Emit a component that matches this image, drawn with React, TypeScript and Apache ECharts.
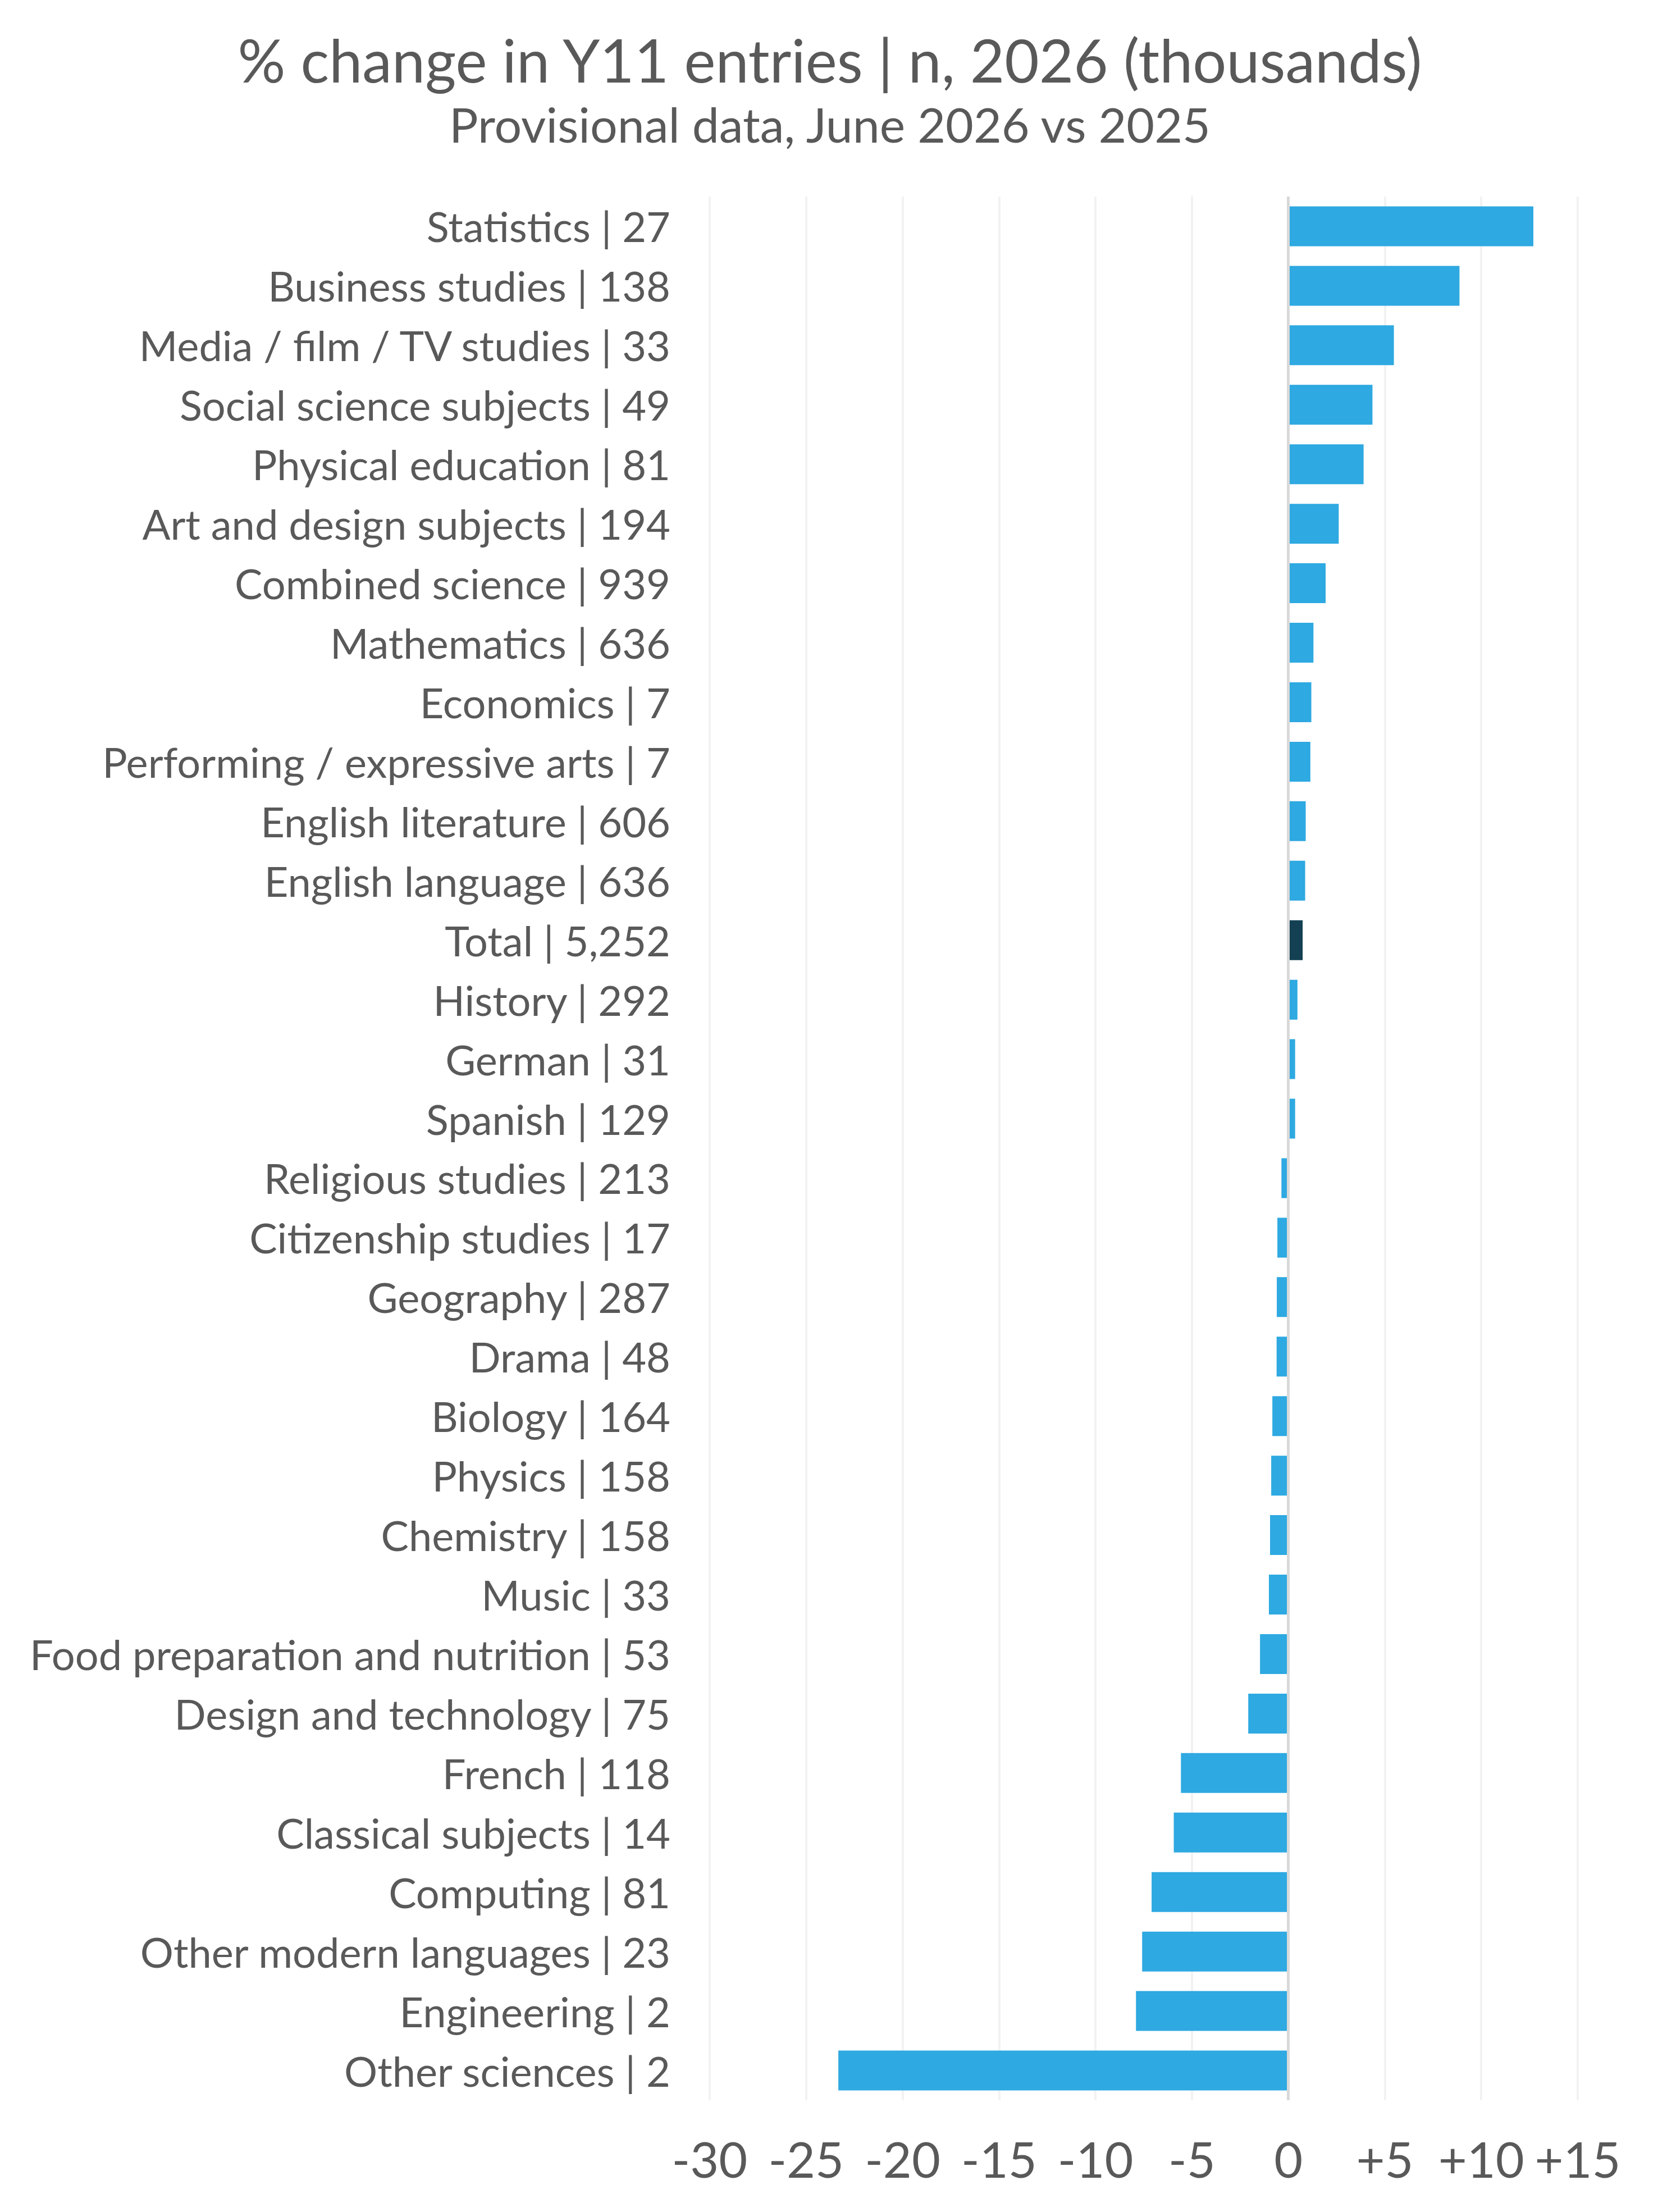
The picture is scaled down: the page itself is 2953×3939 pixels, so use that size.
import React, { useEffect, useRef } from "react";
import * as echarts from "echarts";

const titleText = "% change in Y11 entries | n, 2026 (thousands)";
const subtitleText = "Provisional data, June 2026 vs 2025";

const subjects = [
  "Statistics",
  "Business studies",
  "Media / film / TV studies",
  "Social science subjects",
  "Physical education",
  "Art and design subjects",
  "Combined science",
  "Mathematics",
  "Economics",
  "Performing / expressive arts",
  "English literature",
  "English language",
  "Total",
  "History",
  "German",
  "Spanish",
  "Religious studies",
  "Citizenship studies",
  "Geography",
  "Drama",
  "Biology",
  "Physics",
  "Chemistry",
  "Music",
  "Food preparation and nutrition",
  "Design and technology",
  "French",
  "Classical subjects",
  "Computing",
  "Other modern languages",
  "Engineering",
  "Other sciences",
];

const entries2026 = [
  "27", "138", "33", "49", "81", "194", "939", "636", "7", "7", "606", "636",
  "5,252", "292", "31", "129", "213", "17", "287", "48", "164", "158", "158",
  "33", "53", "75", "118", "14", "81", "23", "2", "2",
];

const pctChange = [
  12.7, 8.87, 5.47, 4.36, 3.9, 2.61, 1.93, 1.3, 1.19, 1.14, 0.9, 0.87,
  0.74, 0.47, 0.35, 0.35, -0.36, -0.57, -0.6, -0.61, -0.83, -0.89, -0.95,
  -1.01, -1.47, -2.08, -5.57, -5.94, -7.09, -7.58, -7.9, -23.33,
];

const highlightSubject = "Total";

const xMin = -30;
const xMax = 15;
const xInterval = 5;

const FONT = "Lato, 'Noto Sans', sans-serif";
const TEXT = "#595959";
const BAR = "#2EA9E1";
const BAR_TOTAL = "#134053";

export default function App() {
  const ref = useRef<HTMLDivElement>(null);

  useEffect(() => {
    if (!ref.current) return;
    const chart = echarts.init(ref.current, null, { renderer: "svg" });
    const labels = subjects.map((s, i) => `${s} | ${entries2026[i]}`);
    chart.setOption({
      animation: false,
      backgroundColor: "#ffffff",
      graphic: [
        {
          type: "text",
          x: 1478,
          y: 106,
          style: {
            text: titleText,
            fill: TEXT,
            font: `400 106px ${FONT}`,
            fontSize: 106,
            fontFamily: FONT,
            align: "center",
            verticalAlign: "middle",
            textAlign: "center",
            textVerticalAlign: "middle",
          },
        },
        {
          type: "text",
          x: 1478,
          y: 220,
          style: {
            text: subtitleText,
            fill: TEXT,
            font: `400 86px ${FONT}`,
            fontSize: 86,
            fontFamily: FONT,
            align: "center",
            verticalAlign: "middle",
            textAlign: "center",
            textVerticalAlign: "middle",
          },
        },
      ],
      grid: {
        left: 1264,
        right: 143,
        top: 350,
        bottom: 199,
        containLabel: false,
      },
      xAxis: {
        type: "value",
        min: xMin,
        max: xMax,
        interval: xInterval,
        axisLine: { show: false },
        axisTick: { show: false },
        splitLine: { show: true, lineStyle: { color: "#F2F2F2", width: 4 } },
        axisLabel: {
          fontSize: 88,
          fontFamily: FONT,
          color: TEXT,
          margin: 60,
          formatter: (v: number) => (v > 0 ? `+${v}` : `${v}`),
        },
      },
      yAxis: {
        type: "category",
        inverse: true,
        data: labels,
        axisLine: { show: false },
        axisTick: { show: false },
        splitLine: { show: false },
        axisLabel: {
          fontSize: 74,
          fontFamily: FONT,
          color: TEXT,
          margin: 70,
          padding: [0, 0, 10, 0],
        },
      },
      series: [
        {
          type: "bar",
          barCategoryGap: "33%",
          data: pctChange.map((v, i) => ({
            value: v,
            itemStyle: { color: subjects[i] === highlightSubject ? BAR_TOTAL : BAR },
          })),
          markLine: {
            silent: true,
            symbol: ["none", "none"],
            label: { show: false },
            lineStyle: { color: "#D9D9D9", width: 5, type: "solid" },
            data: [{ xAxis: 0 }],
          },
        },
      ],
    });
    return () => chart.dispose();
  }, []);

  return (
    <div
      ref={ref}
      style={{
        position: "fixed",
        left: 0,
        top: 0,
        width: 2953,
        height: 3939,
        background: "#ffffff",
      }}
    />
  );
}
